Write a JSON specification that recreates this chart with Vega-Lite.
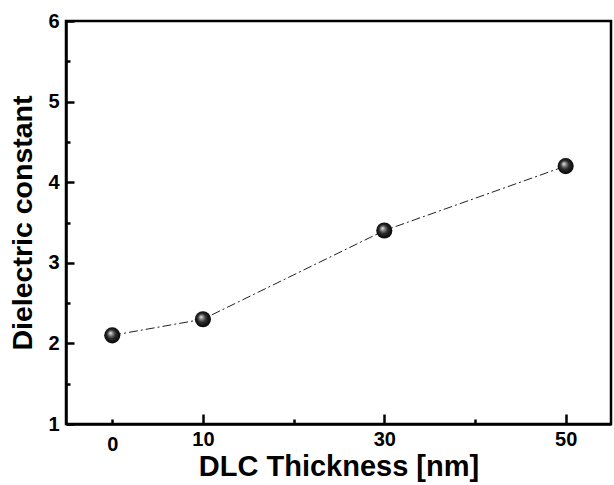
{
  "$schema": "https://vega.github.io/schema/vega-lite/v6.json",
  "width": 545,
  "height": 403,
  "autosize": {"type": "none"},
  "padding": {"left": 66, "top": 21, "right": 3, "bottom": 61},
  "background": "white",
  "config": {
    "view": {"stroke": "black", "strokeWidth": 2.5},
    "font": "Liberation Sans",
    "axis": {"grid": false, "labelFont": "Liberation Sans", "titleFont": "Liberation Sans", "labelColor": "black", "titleColor": "black", "domainColor": "black", "tickColor": "black"}
  },
  "data": {"values": [
    {"thickness": 0, "dielectric": 2.1},
    {"thickness": 10, "dielectric": 2.3},
    {"thickness": 30, "dielectric": 3.4},
    {"thickness": 50, "dielectric": 4.2}
  ]},
  "layer": [
    {
      "mark": {"type": "line", "interpolate": "linear", "color": "#222", "strokeWidth": 1, "strokeDash": [9, 3, 2, 3]},
      "encoding": {
        "x": {"field": "thickness", "type": "quantitative", "scale": {"domain": [-5.1, 55], "nice": false, "zero": false},
          "axis": {"orient": "bottom", "values": [0, 10, 20, 30, 40, 50],
            "labelExpr": "datum.value == 20 || datum.value == 40 ? '' : format(datum.value, 'd')",
            "ticks": true, "tickWidth": 2.5,
            "tickSize": {"condition": {"test": "datum.value == 0 || datum.value == 20 || datum.value == 40", "value": -5}, "value": -10},
            "domain": true, "domainWidth": 2.5, "labelFontSize": 20, "labelFontWeight": "bold", "labelPadding": 15, "title": "DLC Thickness [nm]", "titleFontSize": 29, "titleFontWeight": "bold", "titlePadding": -2, "zindex": 1}},
        "y": {"field": "dielectric", "type": "quantitative", "scale": {"domain": [1, 6], "nice": false, "zero": false},
          "axis": {"orient": "left", "values": [1, 1.5, 2, 2.5, 3, 3.5, 4, 4.5, 5, 5.5, 6],
            "labelExpr": "datum.value % 1 == 0 ? format(datum.value, 'd') : ''",
            "ticks": true, "tickWidth": 2.5,
            "tickSize": {"condition": {"test": "datum.value % 1 != 0", "value": -4}, "value": -8},
            "domain": true, "domainWidth": 2.5, "labelFontSize": 20, "labelFontWeight": "bold", "labelPadding": 15, "title": "Dielectric constant", "titleFontSize": 28.5, "titleFontWeight": "bold", "titlePadding": 10, "zindex": 1}}
      }
    },
    {
      "mark": {"type": "point", "filled": true, "size": 260, "opacity": 1, "strokeWidth": 0,
        "fill": {"gradient": "radial", "x1": 0.38, "y1": 0.35, "r1": 0, "x2": 0.5, "y2": 0.5, "r2": 0.55,
          "stops": [{"offset": 0, "color": "#f2f2f2"}, {"offset": 0.22, "color": "#8a8a8a"}, {"offset": 0.5, "color": "#2a2a2a"}, {"offset": 1, "color": "#000000"}]}},
      "encoding": {
        "x": {"field": "thickness", "type": "quantitative"},
        "y": {"field": "dielectric", "type": "quantitative"}
      }
    }
  ]
}
